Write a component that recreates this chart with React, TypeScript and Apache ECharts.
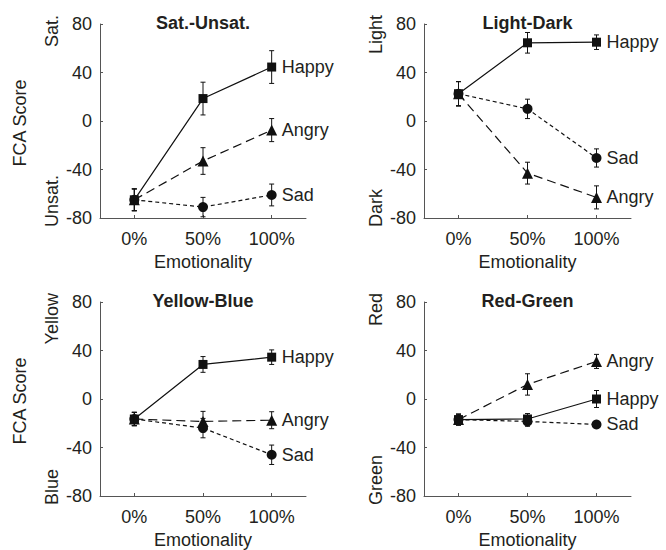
import React, { useEffect, useRef } from "react";
import * as echarts from "echarts";

const categories = ["0%", "50%", "100%"];
const seriesNames = ["Happy", "Angry", "Sad"];

// Sat.-Unsat.
const satHappy = [-65, 18.5, 44.5];
const satHappyErr = [9, 13.5, 13.5];
const satAngry = [-65, -33, -7.5];
const satAngryErr = [9, 11, 9.5];
const satSad = [-65, -71, -61];
const satSadErr = [9, 8, 9];

// Light-Dark
const ldHappy = [22.5, 64.5, 65];
const ldHappyErr = [10, 8.5, 6];
const ldAngry = [22.5, -43, -63];
const ldAngryErr = [10, 9, 9.5];
const ldSad = [22.5, 10, -30.5];
const ldSadErr = [10, 8, 7.5];

// Yellow-Blue
const ybHappy = [-16.5, 28.5, 34.5];
const ybHappyErr = [5.5, 6.5, 6];
const ybAngry = [-16.5, -18.5, -17.5];
const ybAngryErr = [5.5, 8.3, 7];
const ybSad = [-16.5, -24, -46];
const ybSadErr = [5.5, 8, 8];

// Red-Green
const rgHappy = [-17, -16.5, 0];
const rgHappyErr = [4.5, 4.5, 7];
const rgAngry = [-17, 12, 31];
const rgAngryErr = [4.5, 8.8, 5.8];
const rgSad = [-17, -18.5, -21];
const rgSadErr = [4.5, 4, 2];

const panelTitles = ["Sat.-Unsat.", "Light-Dark", "Yellow-Blue", "Red-Green"];
const topLabels = ["Sat.", "Light", "Yellow", "Red"];
const bottomLabels = ["Unsat.", "Dark", "Blue", "Green"];

const FONT = "'Liberation Sans', Arial, Helvetica, sans-serif";
const TXT = "#231f20";
const AX = "#555";
const INK = "#111";

export default function App() {
  const ref = useRef<HTMLDivElement>(null);

  useEffect(() => {
    document.body.style.margin = "0";
    if (!ref.current) return;
    const chart = echarts.init(ref.current, undefined, { renderer: "svg" });

    const panelData = [
      [[satHappy, satHappyErr], [satAngry, satAngryErr], [satSad, satSadErr]],
      [[ldHappy, ldHappyErr], [ldAngry, ldAngryErr], [ldSad, ldSadErr]],
      [[ybHappy, ybHappyErr], [ybAngry, ybAngryErr], [ybSad, ybSadErr]],
      [[rgHappy, rgHappyErr], [rgAngry, rgAngryErr], [rgSad, rgSadErr]],
    ];
    const grids = [
      { left: 100, top: 24, width: 206, height: 194 },
      { left: 424, top: 24, width: 207, height: 194 },
      { left: 100, top: 302, width: 206, height: 194 },
      { left: 424, top: 302, width: 207, height: 194 },
    ];
    const styles = [
      { symbol: "rect", size: 9, dash: "solid" as any },
      { symbol: "triangle", size: 11, dash: [9, 5] },
      { symbol: "circle", size: 10, dash: [4, 3] },
    ];

    const xAxes: any[] = [];
    const yAxes: any[] = [];
    const series: any[] = [];
    const graphics: any[] = [];

    grids.forEach((g, i) => {
      xAxes.push({
        gridIndex: i,
        type: "value",
        min: -0.5,
        max: 2.5,
        splitLine: { show: false },
        axisLine: { show: true, onZero: false, lineStyle: { color: AX, width: 1 } },
        axisTick: { show: true, inside: true, length: 3, customValues: [0, 1, 2], lineStyle: { color: AX } },
        axisLabel: {
          customValues: [0, 1, 2],
          formatter: (v: number) => categories[Math.round(v)],
          fontSize: 18,
          fontFamily: FONT,
          color: TXT,
          margin: 12,
        },
        name: "Emotionality",
        nameLocation: "middle",
        nameGap: 35,
        nameTextStyle: { fontSize: 18, fontFamily: FONT, color: TXT },
      });
      yAxes.push({
        gridIndex: i,
        type: "value",
        min: -80,
        max: 80,
        interval: 40,
        splitLine: { show: false },
        axisLine: { show: true, onZero: false, lineStyle: { color: AX, width: 1 } },
        axisTick: { show: true, inside: true, length: 3, lineStyle: { color: AX } },
        axisLabel: { fontSize: 18, fontFamily: FONT, color: TXT, margin: 8 },
      });

      panelData[i].forEach(([vals, errs], k) => {
        const st = styles[k];
        series.push({
          type: "line",
          name: seriesNames[k],
          xAxisIndex: i,
          yAxisIndex: i,
          data: vals.map((v, j) => [j, v]),
          symbol: st.symbol,
          symbolSize: st.size,
          showSymbol: true,
          lineStyle: { color: INK, width: 1.2, type: st.dash },
          itemStyle: { color: INK },
          endLabel: {
            show: true,
            formatter: seriesNames[k],
            fontSize: 18,
            fontFamily: FONT,
            color: TXT,
            distance: 10,
          },
          z: 3,
        });
        series.push({
          type: "custom",
          xAxisIndex: i,
          yAxisIndex: i,
          data: vals.map((v, j) => [j, v - errs[j], v + errs[j]]),
          encode: { x: 0, y: [1, 2] },
          z: 4,
          renderItem: (_p: any, api: any) => {
            const x = api.value(0);
            const lo = api.coord([x, api.value(1)]);
            const hi = api.coord([x, api.value(2)]);
            const w = 2.5;
            const s = { stroke: INK, lineWidth: 1 };
            return {
              type: "group",
              children: [
                { type: "line", shape: { x1: lo[0], y1: lo[1], x2: hi[0], y2: hi[1] }, style: s },
                { type: "line", shape: { x1: lo[0] - w, y1: lo[1], x2: lo[0] + w, y2: lo[1] }, style: s },
                { type: "line", shape: { x1: hi[0] - w, y1: hi[1], x2: hi[0] + w, y2: hi[1] }, style: s },
              ],
            };
          },
        });
      });

      const cx = g.left + g.width / 2;
      graphics.push({
        type: "text",
        x: cx,
        y: g.top - 1.5,
        style: {
          text: panelTitles[i],
          fontSize: 18,
          fontWeight: "bold",
          fontFamily: FONT,
          fill: TXT,
          textAlign: "center",
          textVerticalAlign: "middle",
        },
      });
      graphics.push({
        type: "text",
        x: g.left - 48,
        y: g.top - 9,
        rotation: Math.PI / 2,
        style: {
          text: topLabels[i],
          fontSize: 18,
          fontFamily: FONT,
          fill: TXT,
          textAlign: "right",
          textVerticalAlign: "middle",
        },
      });
      graphics.push({
        type: "text",
        x: g.left - 48,
        y: g.top + g.height + 9,
        rotation: Math.PI / 2,
        style: {
          text: bottomLabels[i],
          fontSize: 18,
          fontFamily: FONT,
          fill: TXT,
          textAlign: "left",
          textVerticalAlign: "middle",
        },
      });
      if (i % 2 === 0) {
        graphics.push({
          type: "text",
          x: 20,
          y: g.top + g.height / 2 + 2,
          rotation: Math.PI / 2,
          style: {
            text: "FCA Score",
            fontSize: 18,
            fontFamily: FONT,
            fill: TXT,
            textAlign: "center",
            textVerticalAlign: "middle",
          },
        });
      }
    });

    chart.setOption({
      animation: false,
      backgroundColor: "#ffffff",
      grid: grids.map((g) => ({ ...g, containLabel: false })),
      xAxis: xAxes,
      yAxis: yAxes,
      series,
      graphic: graphics,
    });

    return () => chart.dispose();
  }, []);

  return <div ref={ref} style={{ width: 666, height: 550 }} />;
}
